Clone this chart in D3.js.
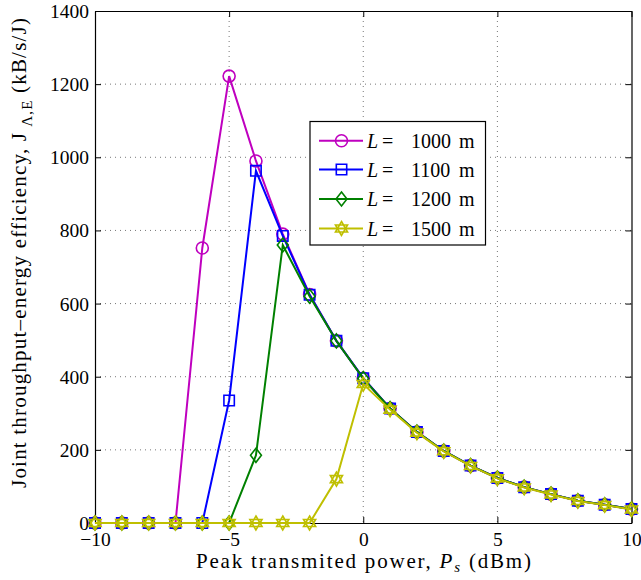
<!DOCTYPE html>
<html><head><meta charset="utf-8">
<script src="https://cdn.jsdelivr.net/npm/d3@7"></script>
<style>body{margin:0;background:#fff}svg{display:block}text{font-family:"Liberation Serif","Times New Roman",serif;fill:#000}</style>
</head><body><svg id="c" width="641" height="580"></svg>
<script>
const xValues = [-10,-9,-8,-7,-6,-5,-4,-3,-2,-1,0,1,2,3,4,5,6,7,8,9,10];
const seriesL1000 = [0,0,0,0,752,1222,990,790,625,498,396,313,249,197,157,123,98,79,61,50,38];
const seriesL1100 = [0,0,0,0,0,335,963,785,624,498,396,313,249,197,157,123,98,79,61,50,38];
const seriesL1200 = [0,0,0,0,0,0,185,760,620,498,395,313,249,197,157,123,98,79,61,50,38];
const seriesL1500 = [0,0,0,0,0,0,0,0,0,120,380,310,247,196,156,122,97,78,60,49,37];
const seriesNames = ["L = 1000 m","L = 1100 m","L = 1200 m","L = 1500 m"];
const seriesLabels = ["1000","1100","1200","1500"];
const xTicks = [-10,-5,0,5,10];
const yTicks = [0,200,400,600,800,1000,1200,1400];

const colors = ["#bf00bf","#0000ff","#008000","#bfbf00"];
const markers = ["circle","square","diamond","hexagram"];
const allSeries = [seriesL1000,seriesL1100,seriesL1200,seriesL1500];

const svg = d3.select("#c");
const L = 95, R = 631.5, T = 11, B = 523;
const x = d3.scaleLinear().domain([-10,10]).range([L,R]);
const y = d3.scaleLinear().domain([0,1400]).range([B,T]);

// grid
const g = svg.append("g");
g.selectAll(".gx").data(xTicks.slice(1,-1)).enter().append("line")
  .attr("x1",d=>x(d)).attr("x2",d=>x(d)).attr("y1",T).attr("y2",B)
  .attr("stroke","#777").attr("stroke-width",1).attr("stroke-dasharray","1,4");
g.selectAll(".gy").data(yTicks.slice(1,-1)).enter().append("line")
  .attr("y1",d=>y(d)).attr("y2",d=>y(d)).attr("x1",L).attr("x2",R)
  .attr("stroke","#777").attr("stroke-width",1).attr("stroke-dasharray","1,4");

// axes (inward ticks on all sides)
const ax = svg.append("g");
const tick = 6;
const xb = ax.append("g").attr("transform",`translate(0,${B})`).call(d3.axisBottom(x).tickValues(xTicks).tickSizeInner(-tick).tickSizeOuter(0).tickFormat(d=>d<0?"\u2212"+Math.abs(d):String(d)));
const xt = ax.append("g").attr("transform",`translate(0,${T})`).call(d3.axisTop(x).tickValues(xTicks).tickSizeInner(-tick).tickSizeOuter(0).tickFormat(""));
const yl = ax.append("g").attr("transform",`translate(${L},0)`).call(d3.axisLeft(y).tickValues(yTicks).tickSizeInner(-tick).tickSizeOuter(0).tickFormat(d3.format("d")));
const yr = ax.append("g").attr("transform",`translate(${R},0)`).call(d3.axisRight(y).tickValues(yTicks).tickSizeInner(-tick).tickSizeOuter(0).tickFormat(""));
ax.selectAll("path.domain").attr("stroke","#000").attr("stroke-width",1.2);
ax.selectAll(".tick line").attr("stroke","#000").attr("stroke-width",1);
xb.selectAll("text").attr("font-size","19.5px").attr("y",null).attr("dy",null).attr("transform","translate(0,23)");
yl.selectAll("text").attr("font-size","19.5px").attr("x",-6).attr("dy","0.33em");
ax.selectAll("text").attr("fill","#000");

// marker path
function markerPath(type, cx, cy){
  const p = d3.path();
  if(type==="circle"){ p.moveTo(cx+6,cy); p.arc(cx,cy,6,0,2*Math.PI); }
  else if(type==="square"){ const s=5.2; p.rect(cx-s,cy-s,2*s,2*s); }
  else if(type==="diamond"){ const s=7; p.moveTo(cx,cy-s); p.lineTo(cx+s*0.78,cy); p.lineTo(cx,cy+s); p.lineTo(cx-s*0.78,cy); p.closePath(); }
  else { const r=7; 
    for(let k=0;k<2;k++){ const off = k?Math.PI/2:-Math.PI/2;
      for(let i=0;i<3;i++){ const a=off+i*2*Math.PI/3; const px=cx+r*Math.cos(a), py=cy+r*Math.sin(a); if(i===0)p.moveTo(px,py); else p.lineTo(px,py);} p.closePath(); } }
  return p.toString();
}

const line = d3.line().x(d=>x(d[0])).y(d=>y(d[1]));
const plot = svg.append("g");
allSeries.forEach((s,i)=>{
  const pts = xValues.map((xv,j)=>[xv,s[j]]);
  plot.append("path").attr("d",line(pts)).attr("fill","none").attr("stroke",colors[i]).attr("stroke-width",2);
  plot.selectAll(".m"+i).data(pts).enter().append("path")
    .attr("d",d=>markerPath(markers[i],x(d[0]),y(d[1])))
    .attr("fill","none").attr("stroke",colors[i]).attr("stroke-width",1.6);
});

// legend
const lg = svg.append("g");
lg.append("rect").attr("x",310).attr("y",121.5).attr("width",175.5).attr("height",123.5).attr("fill","#fff").attr("stroke","#000").attr("stroke-width",1.2);
const rowY = [140.7,169.5,199,228.5];
seriesNames.forEach((n,i)=>{
  const yy=rowY[i];
  lg.append("line").attr("x1",319).attr("x2",363).attr("y1",yy).attr("y2",yy).attr("stroke",colors[i]).attr("stroke-width",2);
  lg.append("path").attr("d",markerPath(markers[i],341.5,yy)).attr("fill","none").attr("stroke",colors[i]).attr("stroke-width",1.6);
  const t = lg.append("text").attr("y",yy+7).attr("font-size","20px");
  t.append("tspan").attr("x",367).attr("font-style","italic").text("L");
  t.append("tspan").attr("x",382).text("=");
  t.append("tspan").attr("x",411).text(seriesLabels[i]);
  t.append("tspan").attr("x",459).text("m");
});

// axis labels
const xl = svg.append("text").attr("x",363.5).attr("y",568).attr("text-anchor","middle").attr("font-size","21px")
  .attr("textLength",335).attr("lengthAdjust","spacing");
xl.append("tspan").text("Peak transmited power, ");
xl.append("tspan").attr("font-style","italic").text("P");
xl.append("tspan").attr("font-style","italic").attr("font-size","15px").attr("dy",4).text("s");
xl.append("tspan").attr("dy",-4).text(" (dBm)");

const ylab = svg.append("text").attr("transform","translate(26,253) rotate(-90)").attr("text-anchor","middle").attr("font-size","21px")
  .attr("textLength",470).attr("lengthAdjust","spacing");
ylab.append("tspan").text("Joint throughput\u2013energy efficiency, J");
ylab.append("tspan").attr("font-size","15px").attr("dy",6).text(" \u039B,E");
ylab.append("tspan").attr("dy",-6).text(" (kB/s/J)");
</script></body></html>
